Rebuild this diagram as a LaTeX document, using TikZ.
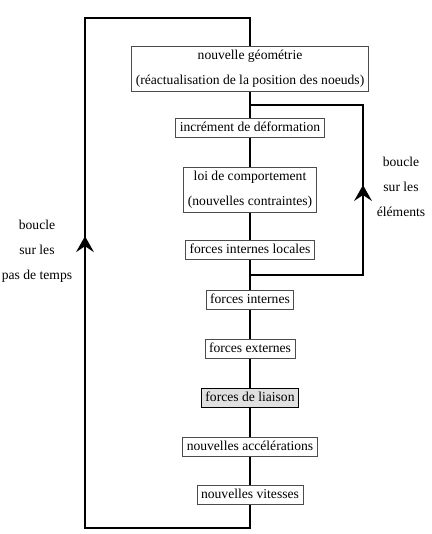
\documentclass[tikz,border=0pt]{standalone}
\usepackage{fontspec}
\setmainfont{Liberation Serif}
\usetikzlibrary{decorations.markings,backgrounds,positioning}
\tikzset{etape/.style={draw=black!70,line width=0.8pt,fill=white,inner xsep=4pt,inner ysep=3.5pt,
                       font=\fontsize{13.6}{25}\selectfont,align=center},
         ligne/.style={text height=9.6pt,text depth=3pt},
         liaison/.style={etape,draw=black,line width=1.1pt,fill=black!12},
         flot/.style={line width=2.6pt,line join=miter},
         fleche/.style={decoration={markings,mark=at position #1 with {
             \fill (1pt,0pt) -- (-15pt,9pt) -- (-9pt,0pt) -- (-15pt,-9pt) -- cycle;}},postaction={decorate}},
         legende/.style={font=\fontsize{13.6}{25}\selectfont,align=center}}

\begin{document}
\begin{tikzpicture}[x=1pt,y=-1pt]
            \useasboundingbox (0,0) rectangle (431,534);
            % etapes du calcul
            \node[etape] (geo) at (250,69) {nouvelle géométrie\\(réactualisation de la position des noeuds)};
            \node[etape,ligne] (incr) at (250,128) {incrément de déformation};
            \node[etape] (loi) at (250,190) {loi de comportement\\(nouvelles contraintes)};
            \node[etape,ligne] (fil) at (250,250) {forces internes locales};
            \node[etape,ligne] (fint) at (250,300) {forces internes};
            \node[etape,ligne] (fext) at (250,349) {forces externes};
            \node[liaison,ligne] (flia) at (250,398) {forces de liaison};
            \node[etape,ligne] (acc) at (250,447) {nouvelles accélérations};
            \node[etape,ligne] (vit) at (250,495) {nouvelles vitesses};
            % points des boucles
            \coordinate (split) at (250,105);
            \coordinate (join) at (250,275);
            \coordinate (rtop) at (363,105);
            \coordinate (botleft) at (85,528);
            \coordinate (topleft) at (85,18);
            \begin{pgfonlayer}{background}
            \draw[flot] (geo) -- (incr) -- (loi) -- (fil) -- (fint) -- (fext) -- (flia) -- (acc) -- (vit);
            \draw[flot,fleche=0.51] (join) -| (rtop) -- (split);
            \draw[flot,fleche=0.537] (vit) |- (botleft) -- (topleft) -| (geo);
            \end{pgfonlayer}
            % legendes
            \node[legende] (bpas) at (37,251) {boucle\\sur les\\pas de temps};
            \node[legende] (belem) at (401,187) {boucle\\sur les\\éléments};
        \end{tikzpicture}
\end{document}
